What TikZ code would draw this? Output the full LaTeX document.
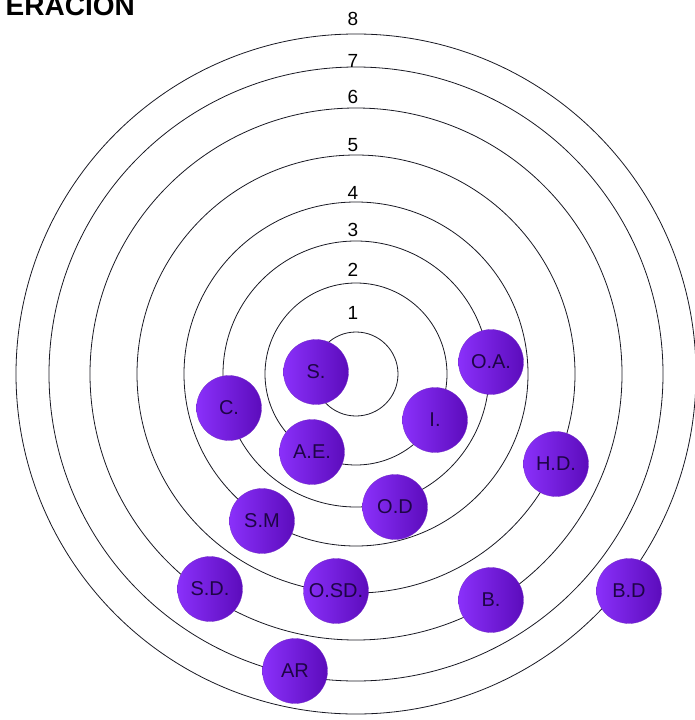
\documentclass[tikz,border=0pt]{standalone}
\usepackage{fontspec}
\setmainfont{Liberation Sans}
\usepackage{xcolor}
\definecolor{ringline}{RGB}{25, 25, 35}
\definecolor{balllight}{RGB}{138, 48, 250}
\definecolor{balldark}{RGB}{92, 12, 188}
\definecolor{ballink}{RGB}{30, 5, 70}

\begin{document}
\begin{tikzpicture}[
    x=1pt, y=-1pt,
    ring/.style={draw=ringline, line width=0.8pt},
    ringnum/.style={font=\fontsize{19}{19}\selectfont, inner sep=0pt},
    ball/.style={circle, minimum size=65pt, inner sep=0pt, left color=balllight, right color=balldark, draw=balldark!85, line width=0.3pt, font=\fontsize{20}{20}\selectfont, text=ballink},
    heading/.style={font=\fontsize{28}{28}\selectfont\bfseries, inner sep=0pt, anchor=base east},
]
\useasboundingbox (0,0) rectangle (695,720);

% titulo cortado arriba
\node[heading] (title) at (135,16) {ERACIÓN};

% anillos y numeros
\foreach \r/\ly/\n in {42/313/1, 91/270/2, 133/230/3, 172/193/4, 219/145/5, 266/97/6, 307/61/7, 340/19/8} {
  \draw[ring] (356,374) circle[radius=\r];
  \node[ringnum] (num\n) at (353,\ly) {\n};
}

% esferas
\node[ball] (s)   at (316,372) {S.};
\node[ball] (oa)  at (491,362) {O.A.};
\node[ball] (c)   at (229,408) {C.};
\node[ball] (i)   at (435,420) {I.};
\node[ball] (ae)  at (312,452) {A.E.};
\node[ball] (hd)  at (556,464) {H.D.};
\node[ball] (od)  at (395,507) {O.D};
\node[ball] (sm)  at (262,521) {S.M};
\node[ball] (sd)  at (210,589) {S.D.};
\node[ball] (osd) at (336,591) {O.SD.};
\node[ball] (b)   at (491,600) {B.};
\node[ball] (bd)  at (629,591) {B.D};
\node[ball] (ar)  at (295,671) {AR};

\end{tikzpicture}
\end{document}
